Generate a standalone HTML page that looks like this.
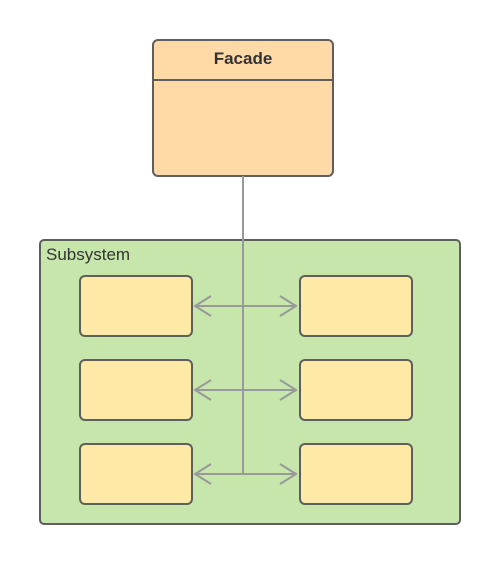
<!DOCTYPE html>
<html><head><style>body{margin:0;background:#fff}</style></head><body>
<svg width="500" height="564" xmlns="http://www.w3.org/2000/svg" style="display:block">
<rect x="153" y="40" width="180" height="136" rx="5" fill="#ffd9a6" stroke="#5e5e5e" stroke-width="2"/>
<line x1="153" y1="80" x2="333" y2="80" stroke="#5e5e5e" stroke-width="2"/>
<text x="243" y="64" text-anchor="middle" font-family="Liberation Sans, sans-serif" font-weight="bold" font-size="17" fill="#333">Facade</text>
<rect x="40" y="240" width="420" height="284" rx="4" fill="#c6e6ac" stroke="#5e5e5e" stroke-width="2"/>
<text x="46" y="260" font-family="Liberation Sans, sans-serif" font-size="17" fill="#333">Subsystem</text>
<g fill="#ffe9a6" stroke="#5e5e5e" stroke-width="2">
<rect x="80" y="276" width="112" height="60" rx="5"/><rect x="300" y="276" width="112" height="60" rx="5"/>
<rect x="80" y="360" width="112" height="60" rx="5"/><rect x="300" y="360" width="112" height="60" rx="5"/>
<rect x="80" y="444" width="112" height="60" rx="5"/><rect x="300" y="444" width="112" height="60" rx="5"/>
</g>
<g stroke="#999" stroke-width="2" fill="none">
<line x1="243" y1="176" x2="243" y2="474"/>
<path d="M195 306H296M211 296L195 306L211 316M280 296L296 306L280 316"/>
<path d="M195 390H296M211 380L195 390L211 400M280 380L296 390L280 400"/>
<path d="M195 474H296M211 464L195 474L211 484M280 464L296 474L280 484"/>
</g>
</svg>
</body></html>
